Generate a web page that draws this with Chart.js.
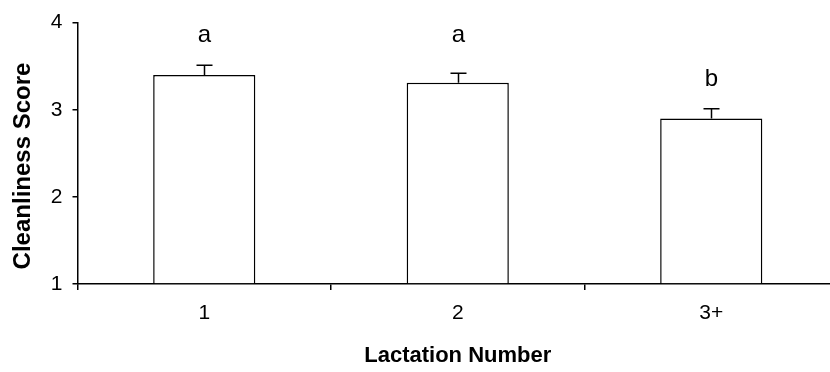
<!DOCTYPE html>
<html>
<head>
<meta charset="utf-8">
<script src="https://cdn.jsdelivr.net/npm/chart.js@4/dist/chart.umd.min.js"></script>
<style>
  html, body { margin: 0; padding: 0; background: #fff; overflow: hidden; }
  #wrap { position: relative; width: 840px; height: 372px; }
</style>
</head>
<body>
<div id="wrap"><canvas id="c"></canvas></div>
<script>
// Mean cleanliness score by lactation number, with upper SE bars and group letters
const categories = ['1', '2', '3+'];
const meanScores = [3.40, 3.31, 2.90];
const stdErrors = [0.11, 0.11, 0.11];
const groupLetters = ['a', 'a', 'b'];
const yTicks = [1, 2, 3, 4];

const FONT = "'Liberation Sans', Arial, sans-serif";

// Upper error whiskers with a short cap; each letter sits one shared level above
// the tallest whisker of its group
const errorBars = {
  id: 'errorBars',
  afterDatasetsDraw(chart) {
    const { ctx, scales: { y } } = chart;
    const meta = chart.getDatasetMeta(0);
    const groupTop = {};
    groupLetters.forEach((g, i) => {
      const top = meanScores[i] + stdErrors[i];
      groupTop[g] = Math.max(groupTop[g] ?? -Infinity, top);
    });
    ctx.save();
    ctx.strokeStyle = '#000';
    ctx.lineWidth = 1.5;
    meta.data.forEach((bar, i) => {
      const x = Math.round(bar.x) + 0.5;
      const yMean = y.getPixelForValue(meanScores[i]);
      const yTop = y.getPixelForValue(meanScores[i] + stdErrors[i]);
      ctx.beginPath();
      ctx.moveTo(x, yMean);
      ctx.lineTo(x, yTop);
      ctx.moveTo(x - 8, yTop);
      ctx.lineTo(x + 8, yTop);
      ctx.stroke();
      ctx.fillStyle = '#000';
      ctx.font = '24px ' + FONT;
      ctx.textAlign = 'center';
      ctx.textBaseline = 'alphabetic';
      ctx.fillText(groupLetters[i], x, y.getPixelForValue(groupTop[groupLetters[i]]) - 23);
    });
    ctx.restore();
  }
};

// Rotated y-axis title
const yTitle = {
  id: 'yTitle',
  afterDraw(chart) {
    const { ctx } = chart;
    ctx.save();
    ctx.translate(23, 166);
    ctx.rotate(-Math.PI / 2);
    ctx.fillStyle = '#000';
    ctx.font = 'bold 24px ' + FONT;
    ctx.textAlign = 'center';
    ctx.textBaseline = 'middle';
    ctx.fillText('Cleanliness Score', 0, 0);
    ctx.restore();
  }
};

new Chart(document.getElementById('c'), {
  type: 'bar',
  data: {
    labels: categories,
    datasets: [{
      data: meanScores,
      base: 1,
      backgroundColor: '#fff',
      borderColor: '#000',
      borderWidth: 1.5,
      barPercentage: 0.403,
      categoryPercentage: 1
    }]
  },
  options: {
    responsive: true,
    maintainAspectRatio: false,
    animation: false,
    layout: { padding: { top: 19, right: 2, left: 0, bottom: 0 } },
    plugins: { legend: { display: false }, tooltip: { enabled: false } },
    scales: {
      x: {
        offset: true,
        grid: { offset: true, drawOnChartArea: false, drawTicks: true, tickLength: 6, color: '#000', lineWidth: 1.5 },
        border: { display: true, color: '#000', width: 1.5 },
        ticks: { color: '#000', font: { family: FONT, size: 21 }, padding: 11, maxRotation: 0 },
        title: { display: true, text: 'Lactation Number', color: '#000', font: { family: FONT, size: 22, weight: 'bold' }, padding: { top: 0, bottom: 3 } },
        afterFit(scale) { scale.height = 88; }
      },
      y: {
        min: 1,
        max: 4,
        afterBuildTicks(scale) { scale.ticks = yTicks.map(v => ({ value: v })); },
        grid: { drawOnChartArea: false, drawTicks: true, tickLength: 5, color: '#000', lineWidth: 1.5 },
        border: { display: true, color: '#000', width: 1.5 },
        ticks: { color: '#000', font: { family: FONT, size: 21 }, padding: 10 },
        afterFit(scale) { scale.width = 77.5; }
      }
    }
  },
  plugins: [errorBars, yTitle]
});
</script>
</body>
</html>
